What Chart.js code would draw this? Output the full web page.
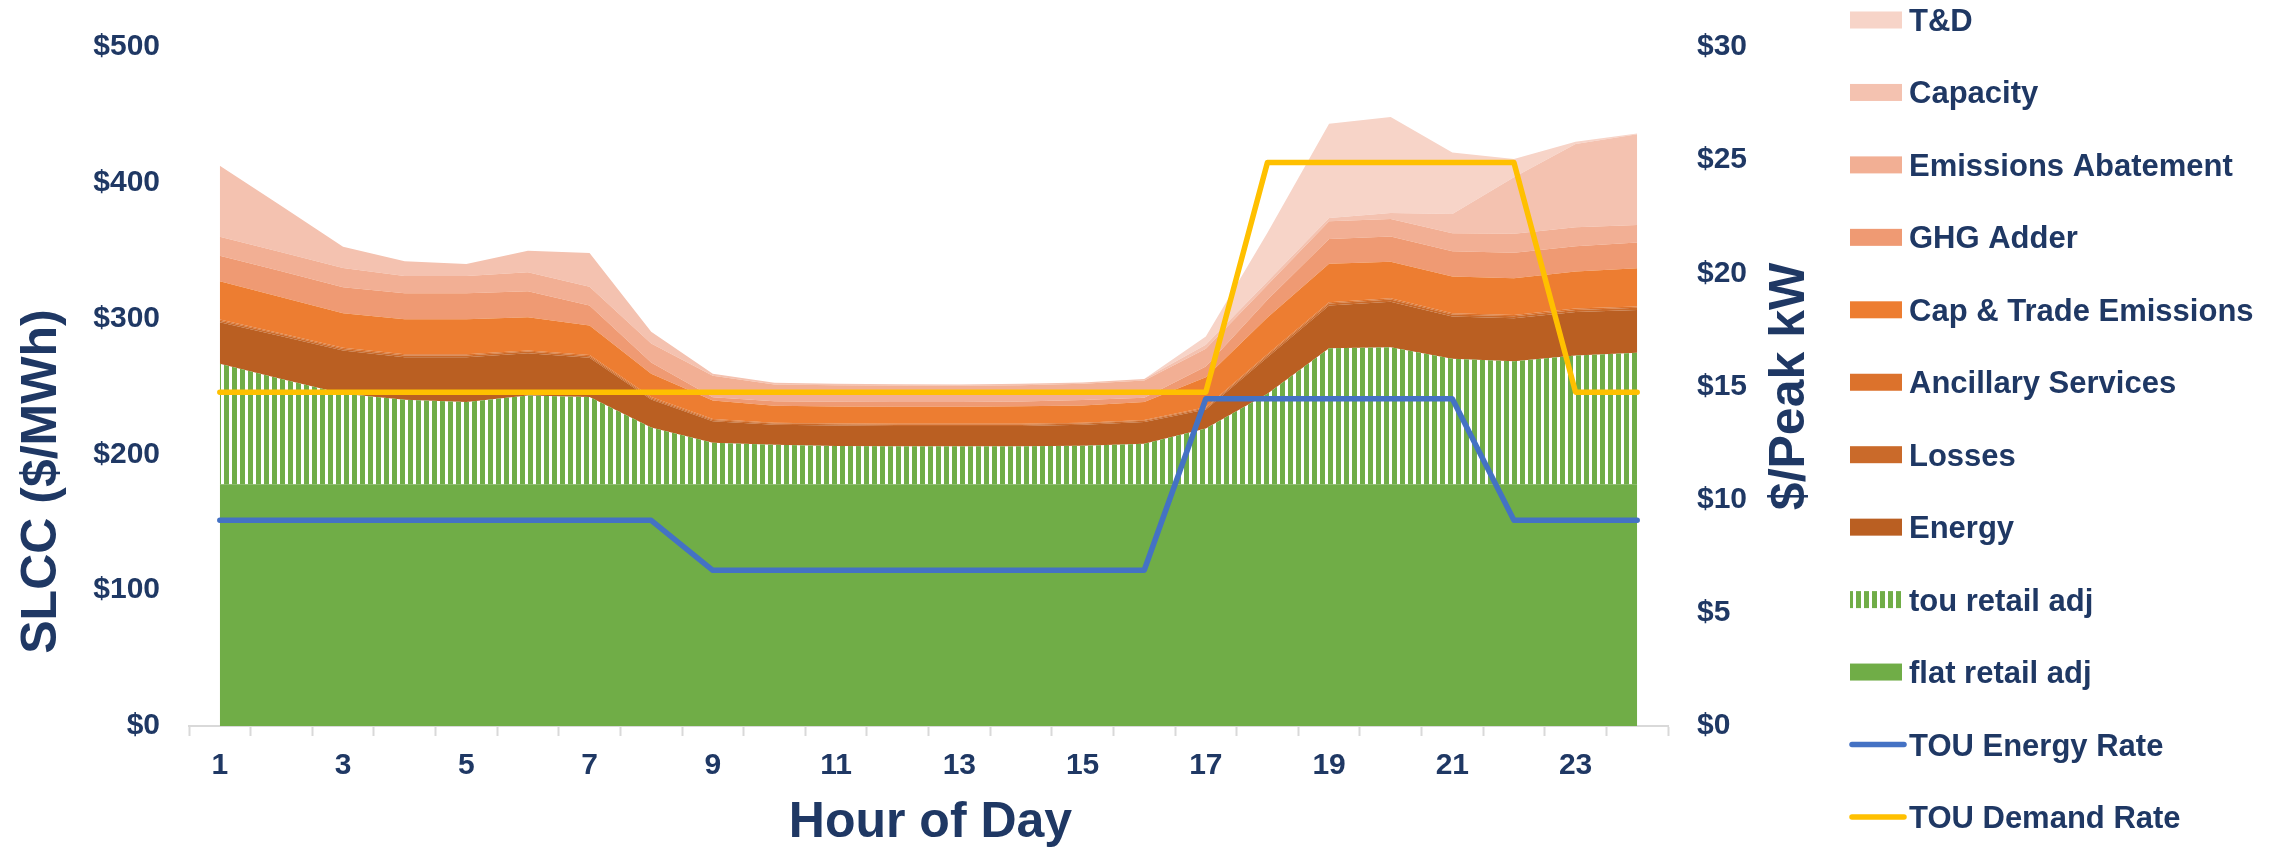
<!DOCTYPE html>
<html>
<head>
<meta charset="utf-8">
<title>SLCC by hour of day</title>
<script src="https://cdn.jsdelivr.net/npm/chart.js@4.4.1/dist/chart.umd.min.js"></script>
<style>
  html, body { margin: 0; padding: 0; background: #ffffff; }
  #wrap { width: 2292px; height: 847px; position: relative; }
</style>
</head>
<body>
<div id="wrap"><canvas id="c" width="2292" height="847"></canvas></div>
<script>
// ---- data ($/MWh stacked components, $/peak kW rates) ----
const hours = ['1','2','3','4','5','6','7','8','9','10','11','12','13','14','15','16','17','18','19','20','21','22','23','24'];

const flatRetailAdj = [178,178,178,178,178,178,178,178,178,178,178,178,178,178,178,178,178,178,178,178,178,178,178,178];
const touRetailAdj  = [88.7,77.6,66.6,62.2,60.5,65.4,64.2,41.9,30.6,29.1,28.2,28.0,28.0,28.0,28.4,29.8,41.0,66.6,100.2,100.9,92.4,90.6,94.8,96.8];
const energy        = [30.6,31.4,31.9,31.4,33.1,31.1,28.9,20.5,15.9,14.7,15.1,15.0,15.0,15.0,15.4,16.0,14.0,27.0,31.4,33.6,31.1,31.6,32.1,31.6];
const losses        = [1.2,1.2,1.2,1.2,1.2,1.2,1.2,1.0,0.9,0.9,0.9,0.9,0.9,0.9,0.9,0.9,1.0,1.3,1.5,1.5,1.5,1.5,1.5,1.5];
const ancillary     = [0.9,0.9,0.9,0.9,0.9,0.9,0.9,0.8,0.6,0.6,0.6,0.6,0.6,0.6,0.6,0.6,0.8,0.9,1.0,1.0,1.0,1.0,1.0,1.0];
const capTrade      = [28.1,26.6,25.3,25.8,25.8,24.4,21.7,17.1,13.7,12.5,12.5,12.5,12.5,13.0,12.7,13.2,22.0,27.0,28.2,26.9,27.0,27.1,27.3,28.1];
const ghgAdder      = [18.8,19.1,19.1,19.1,19.1,19.1,14.7,8.3,2.3,3.4,3.4,3.5,3.5,3.5,4.0,3.2,8.0,13.0,18.3,18.6,18.6,18.6,18.6,19.1];
const emissionsAbatement = [14.0,14.0,14.3,12.8,12.8,14.0,13.9,14.0,16.0,12.3,12.3,12.2,12.0,12.0,12.0,12.7,13.0,11.0,13.1,12.8,13.2,14.0,14.0,12.8];
const capacity      = [52.2,34.1,15.6,10.8,8.8,15.9,24.8,8.8,1.3,1.2,1.0,1.0,1.0,1.0,1.0,1.2,3.0,2.5,2.4,4.4,14.3,41.6,61.2,66.9];
const tnd           = [0,0,0,0,0,0,0,0,0,0,0,0,0,0,0,0,6.0,36.0,69.4,70.8,45.3,13.5,1.7,0.5];

const touEnergyRate = [9.09,9.09,9.09,9.09,9.09,9.09,9.09,9.09,6.88,6.88,6.88,6.88,6.88,6.88,6.88,6.88,14.46,14.46,14.46,14.46,14.46,9.09,9.09,9.09];
const touDemandRate = [14.75,14.75,14.75,14.75,14.75,14.75,14.75,14.75,14.75,14.75,14.75,14.75,14.75,14.75,14.75,14.75,14.75,24.9,24.9,24.9,24.9,24.9,14.75,14.75];

const leftTicks  = [0, 100, 200, 300, 400, 500];
const rightTicks = [0, 5, 10, 15, 20, 25, 30];

// ---- styling ----
const NAVY = '#1F3864';
const FONT = '"Liberation Sans", Arial, Helvetica, sans-serif';
const GREEN = '#70AD47';

const canvas = document.getElementById('c');
const ctx0 = canvas.getContext('2d');

function stripePattern(c) {
  const t = document.createElement('canvas');
  t.width = 8; t.height = 8;
  const g = t.getContext('2d');
  g.fillStyle = GREEN;
  g.fillRect(0, 0, 5, 8);
  return c.createPattern(t, 'repeat');
}
const stripes = stripePattern(ctx0);

function area(label, data, color, fill) {
  return {
    label, data, yAxisID: 'y', stack: 'slcc',
    backgroundColor: color, borderColor: 'rgba(0,0,0,0)', borderWidth: 0,
    fill, pointRadius: 0, pointHoverRadius: 0, tension: 0, _kind: 'area'
  };
}
function rateLine(label, data, color, order) {
  return {
    label, data, yAxisID: 'y1', borderColor: color, backgroundColor: color,
    borderWidth: 5.5, fill: false, pointRadius: 0, pointHoverRadius: 0,
    tension: 0, borderCapStyle: 'round', borderJoinStyle: 'round', order, _kind: 'line'
  };
}

const datasets = [
  area('flat retail adj', flatRetailAdj, GREEN, 'origin'),
  area('tou retail adj', touRetailAdj, stripes, '-1'),
  area('Energy', energy, '#BA5F22', '-1'),
  area('Losses', losses, '#CA6A2A', '-1'),
  area('Ancillary Services', ancillary, '#DC722C', '-1'),
  area('Cap & Trade Emissions', capTrade, '#ED7D31', '-1'),
  area('GHG Adder', ghgAdder, '#EF9A73', '-1'),
  area('Emissions Abatement', emissionsAbatement, '#F2AF94', '-1'),
  area('Capacity', capacity, '#F4C2B0', '-1'),
  area('T&D', tnd, '#F7D4C8', '-1'),
  rateLine('TOU Energy Rate', touEnergyRate, '#4472C4', -1),
  rateLine('TOU Demand Rate', touDemandRate, '#FFC000', -2)
];

// axis titles and the side legend
const decorations = {
  id: 'decorations',
  afterDraw(chart) {
    const { ctx, chartArea: a } = chart;
    const h = a.bottom - a.top;
    ctx.save();
    ctx.fillStyle = NAVY;
    ctx.font = 'bold 50px ' + FONT;
    ctx.textAlign = 'center';
    ctx.textBaseline = 'alphabetic';
    ctx.fillText('Hour of Day', (a.left + a.right) / 2 + 2, a.bottom + 111);

    ctx.save();
    ctx.translate(a.left - 133, a.top + h * 0.64);
    ctx.rotate(-Math.PI / 2);
    ctx.fillText('SLCC ($/MWh)', 0, 0);
    ctx.restore();

    ctx.save();
    ctx.translate(a.right + 136, a.top + h * 0.5);
    ctx.rotate(-Math.PI / 2);
    ctx.fillText('$/Peak kW', 0, 0);
    ctx.restore();

    // legend: areas top-down, then the two rate lines
    const areas = chart.data.datasets.filter(d => d._kind === 'area').slice().reverse();
    const lines = chart.data.datasets.filter(d => d._kind === 'line');
    const items = areas.concat(lines);
    const x0 = a.right + 182, sw = 52, pitch = 72.45, y0 = 20;
    ctx.font = 'bold 31px ' + FONT;
    ctx.textAlign = 'left';
    items.forEach((d, i) => {
      const cy = y0 + i * pitch;
      if (d._kind === 'area') {
        ctx.fillStyle = d.backgroundColor;
        ctx.fillRect(x0, cy - 8.5, sw, 17);
      } else {
        ctx.strokeStyle = d.borderColor;
        ctx.lineWidth = 5.5;
        ctx.lineCap = 'round';
        ctx.beginPath();
        ctx.moveTo(x0 + 2, cy);
        ctx.lineTo(x0 + sw + 2, cy);
        ctx.stroke();
      }
      ctx.fillStyle = NAVY;
      ctx.fillText(d.label, x0 + 59, cy + 11);
    });
    ctx.restore();
  }
};

Chart.defaults.font.family = FONT;
Chart.defaults.color = NAVY;

new Chart(canvas, {
  type: 'line',
  data: { labels: hours, datasets },
  plugins: [decorations],
  options: {
    responsive: false,
    animation: false,
    devicePixelRatio: 1,
    events: [],
    layout: { padding: { left: 0, right: 464, top: 46, bottom: 0 } },
    plugins: { legend: { display: false }, tooltip: { enabled: false } },
    scales: {
      x: {
        type: 'category',
        offset: true,
        afterFit(s) { s.height = 121; },
        border: { display: true, color: '#D9D9D9', width: 2 },
        grid: { display: true, offset: true, drawOnChartArea: false, drawTicks: true,
                tickLength: 10, tickWidth: 2, tickColor: '#D9D9D9' },
        ticks: {
          autoSkip: false, maxRotation: 0, padding: 12,
          font: { size: 30, weight: 'bold' }, color: NAVY,
          callback(v, i) { return i % 2 === 0 ? hours[i] : ''; }
        }
      },
      y: {
        position: 'left', stacked: true,
        min: leftTicks[0], max: leftTicks[leftTicks.length - 1],
        afterFit(s) { s.width = 189; },
        afterBuildTicks(s) { s.ticks = leftTicks.map(v => ({ value: v })); },
        border: { display: false },
        grid: { display: false, drawTicks: false },
        ticks: { padding: 29, font: { size: 30, weight: 'bold' }, color: NAVY,
                 callback: v => '$' + v }
      },
      y1: {
        position: 'right', stacked: false,
        min: rightTicks[0], max: rightTicks[rightTicks.length - 1],
        afterFit(s) { s.width = 160; },
        afterBuildTicks(s) { s.ticks = rightTicks.map(v => ({ value: v })); },
        border: { display: false },
        grid: { display: false, drawTicks: false },
        ticks: { padding: 29, font: { size: 30, weight: 'bold' }, color: NAVY,
                 callback: v => '$' + v }
      }
    }
  }
});
</script>
</body>
</html>
